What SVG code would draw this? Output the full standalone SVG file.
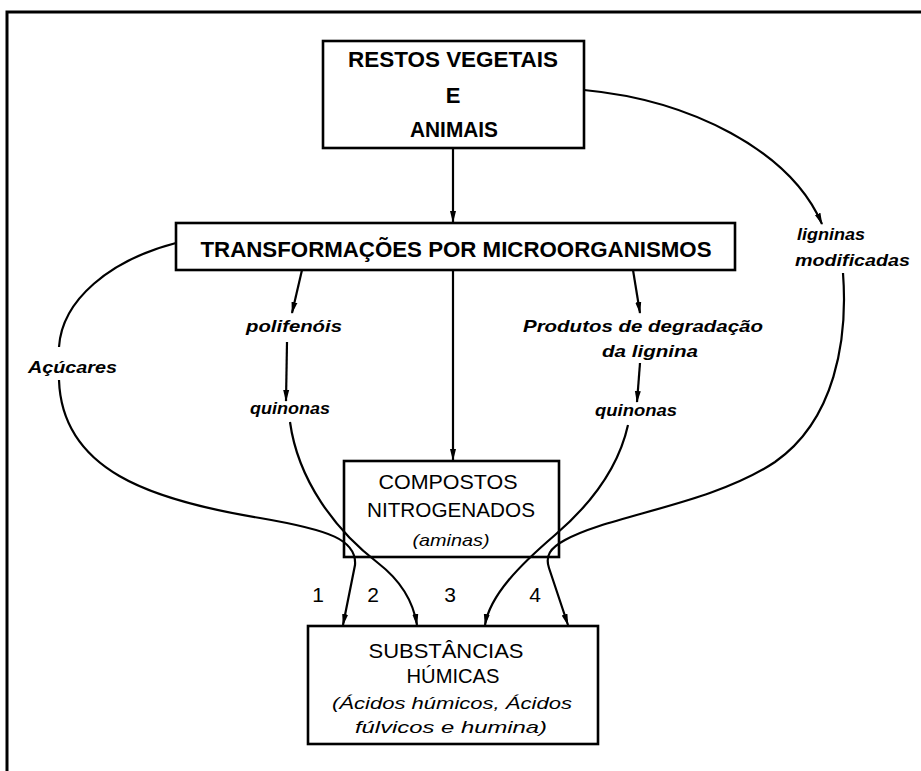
<svg xmlns="http://www.w3.org/2000/svg" width="921" height="771" viewBox="0 0 921 771">
<defs>
<marker id="ah" viewBox="0 0 12 8" refX="11" refY="4" markerWidth="12" markerHeight="8" markerUnits="userSpaceOnUse" orient="auto">
<path d="M0,1 L12,4 L0,7 Z" fill="#000"/>
</marker>
<style>
.box{fill:#fff;stroke:#000;stroke-width:2.6}
.frame{fill:none;stroke:#000;stroke-width:3}
.con{fill:none;stroke:#000;stroke-width:2.2}
.arr{marker-end:url(#ah)}
.tb{font-family:"Liberation Sans","DejaVu Sans",sans-serif;font-weight:bold;font-size:22px;fill:#000}
.tn{font-family:"Liberation Sans","DejaVu Sans",sans-serif;font-size:21px;fill:#000}
.ti{font-family:"Liberation Sans","DejaVu Sans",sans-serif;font-style:italic;font-size:17px;fill:#000}
.lb{font-family:"Liberation Sans","DejaVu Sans",sans-serif;font-style:italic;font-weight:bold;font-size:17px;fill:#000}
</style>
</defs>
<rect width="921" height="771" fill="#fff"/>
<path class="frame" d="M7,771 L7,12 L921,12"/>

<g id="connectors">
<path class="con arr" d="M453,148 L453,222"/>
<path class="con arr" d="M584,90 C690,100 790,150 822,224"/>
<path class="con arr" d="M302,270 L292,313"/>
<path class="con arr" d="M287,342 L286,401"/>
<path class="con arr" d="M633,270 L640,313"/>
<path class="con arr" d="M640,363 L637,402"/>
<path class="con arr" d="M453,270 L453,460"/>
<path class="con" d="M176,243 C110,260 62,300 59,347"/>
<path class="con arr" d="M59,380 C62,470 150,500 260,518 C330,530 357,540 355,565 L343,625"/>
<path class="con arr" d="M290,422 C298,480 335,530 378,563 C400,580 413,600 417,625"/>
<path class="con arr" d="M628,425 C618,470 590,505 555,535 C520,565 490,595 485,625"/>
<path class="con arr" d="M843,273 C848,340 835,420 775,462 C710,505 610,515 565,540 C550,548 545,556 549,568 L568,625"/>
</g>

<g id="restos">
<rect class="box" x="323" y="41" width="261" height="107"/>
<text class="tb" x="453" y="67" text-anchor="middle" textLength="210" lengthAdjust="spacingAndGlyphs">RESTOS VEGETAIS</text>
<text class="tb" x="453" y="103" text-anchor="middle">E</text>
<text class="tb" x="454" y="137" text-anchor="middle" textLength="88" lengthAdjust="spacingAndGlyphs">ANIMAIS</text>
</g>

<g id="transformacoes">
<rect class="box" x="176" y="223" width="559" height="47"/>
<text class="tb" x="456" y="257" text-anchor="middle" font-size="24" textLength="511" lengthAdjust="spacingAndGlyphs">TRANSFORMAÇÕES POR MICROORGANISMOS</text>
</g>

<g id="ligninas">
<text class="lb" x="797" y="240" textLength="68" lengthAdjust="spacingAndGlyphs">ligninas</text>
<text class="lb" x="795" y="266" textLength="115" lengthAdjust="spacingAndGlyphs">modificadas</text>
</g>

<g id="acucares">
<text class="lb" x="28" y="373" textLength="89" lengthAdjust="spacingAndGlyphs">Açúcares</text>
</g>

<g id="polifenois">
<text class="lb" x="246" y="332" textLength="96" lengthAdjust="spacingAndGlyphs">polifenóis</text>
</g>

<g id="quinonas1">
<text class="lb" x="250" y="414" textLength="80" lengthAdjust="spacingAndGlyphs">quinonas</text>
</g>

<g id="produtos">
<text class="lb" x="523" y="332" textLength="240" lengthAdjust="spacingAndGlyphs">Produtos de degradação</text>
<text class="lb" x="602" y="357" textLength="96" lengthAdjust="spacingAndGlyphs">da lignina</text>
</g>

<g id="quinonas2">
<text class="lb" x="595" y="416" textLength="82" lengthAdjust="spacingAndGlyphs">quinonas</text>
</g>

<g id="compostos">
<rect class="box" x="344" y="461" width="215" height="96" fill-opacity="0"/>
<text class="tn" x="448" y="489" text-anchor="middle" textLength="139" lengthAdjust="spacingAndGlyphs">COMPOSTOS</text>
<text class="tn" x="451" y="517" text-anchor="middle" textLength="168" lengthAdjust="spacingAndGlyphs">NITROGENADOS</text>
<text class="ti" x="451" y="546" text-anchor="middle" textLength="77" lengthAdjust="spacingAndGlyphs">(aminas)</text>
</g>

<g id="labels-num">
<text class="tn" x="318" y="602" text-anchor="middle">1</text>
<text class="tn" x="373" y="602" text-anchor="middle">2</text>
<text class="tn" x="450" y="602" text-anchor="middle">3</text>
<text class="tn" x="535" y="602" text-anchor="middle">4</text>
</g>

<g id="substancias">
<rect class="box" x="308" y="626" width="290" height="118"/>
<text class="tn" x="446" y="658" text-anchor="middle" textLength="155" lengthAdjust="spacingAndGlyphs">SUBSTÂNCIAS</text>
<text class="tn" x="453" y="683" text-anchor="middle" textLength="93" lengthAdjust="spacingAndGlyphs">HÚMICAS</text>
<text class="ti" x="332" y="709" textLength="240" lengthAdjust="spacingAndGlyphs">(Ácidos húmicos, Ácidos</text>
<text class="ti" x="355" y="733" textLength="192" lengthAdjust="spacingAndGlyphs">fúlvicos e humina)</text>
</g>
</svg>
